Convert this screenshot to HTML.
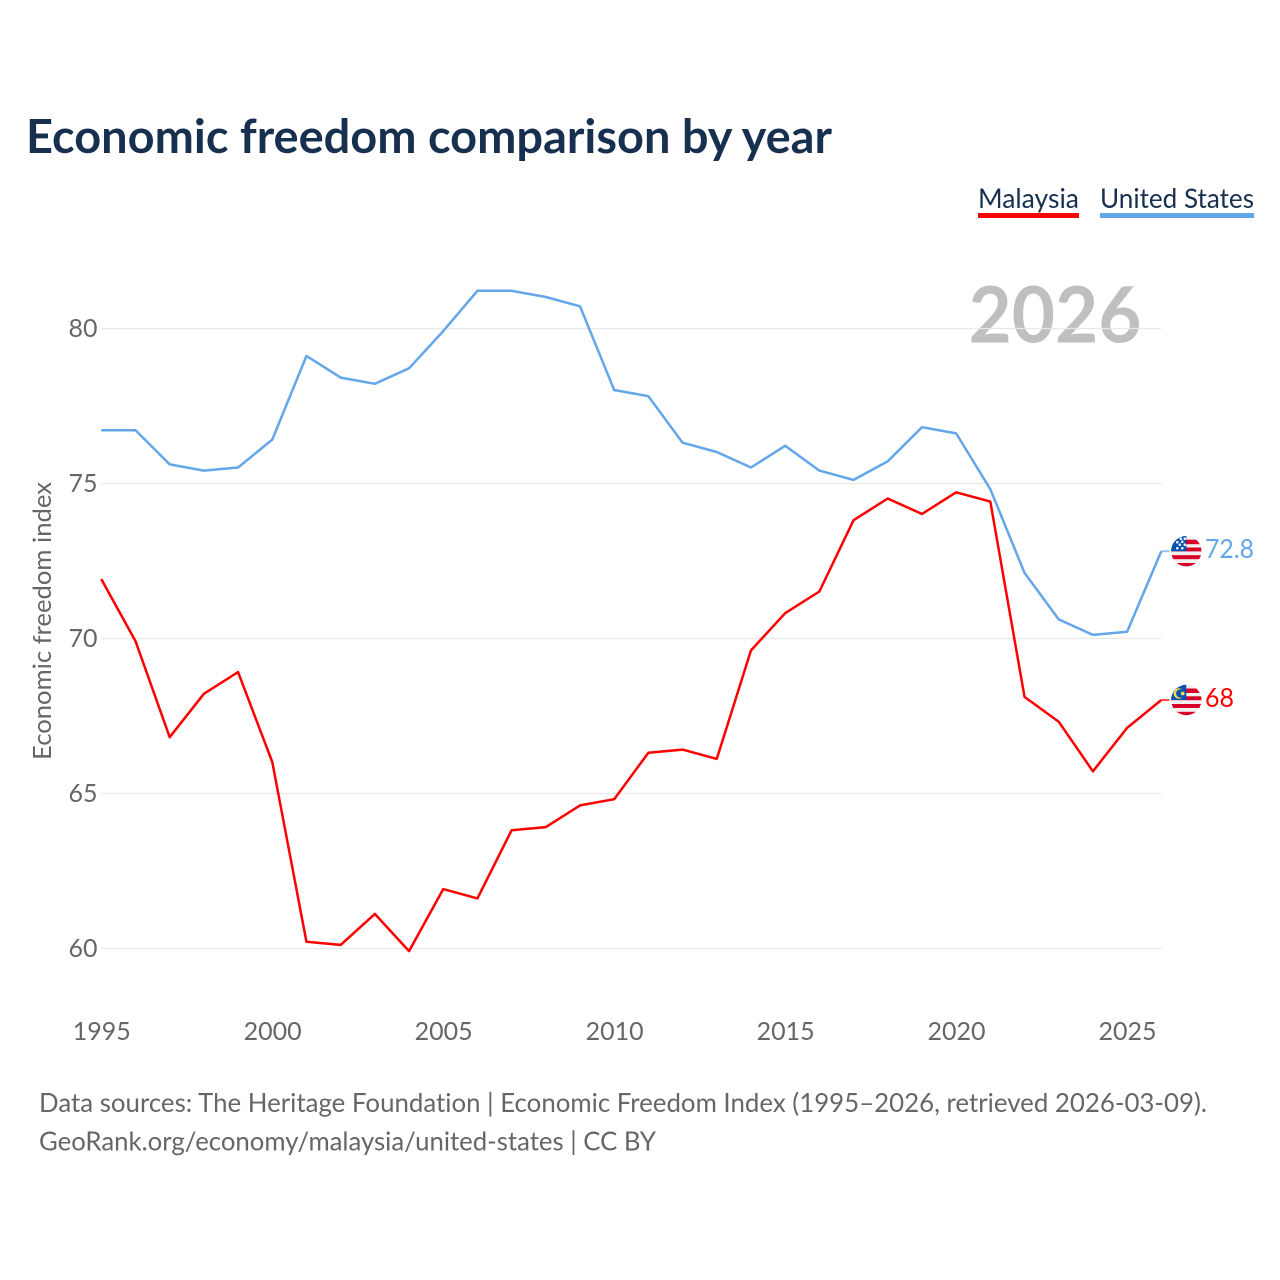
<!DOCTYPE html>
<html lang="en">
<head>
<meta charset="utf-8">
<title>Economic freedom comparison by year</title>
<style>
html,body{margin:0;padding:0;background:#fff;width:1280px;height:1280px;overflow:hidden}
svg{display:block}
text{font-family:"Lato","Carlito","Liberation Sans",sans-serif;font-variant-ligatures:none}
</style>
</head>
<body>
<svg id="chart" xmlns="http://www.w3.org/2000/svg" width="1280" height="1280" viewBox="0 0 1280 1280">
  <rect width="1280" height="1280" fill="#fff"/>
  <text x="26" y="153" font-size="47" font-weight="700" fill="#18304f" textLength="806" lengthAdjust="spacingAndGlyphs">Economic freedom comparison by year</text>

  <g>
    <g>
      <text x="978" y="208" font-size="27" fill="#18304f" textLength="101" lengthAdjust="spacingAndGlyphs">Malaysia</text>
      <rect x="978" y="213" width="101" height="5" fill="#ff0000"/>
    </g>
    <g>
      <text x="1100" y="208" font-size="27" fill="#18304f" textLength="154" lengthAdjust="spacingAndGlyphs">United States</text>
      <rect x="1100" y="213" width="154" height="5" fill="#63a6ea"/>
    </g>
  </g>

  <text x="968.5" y="342.5" font-size="78" font-weight="700" fill="#bfbfbf" textLength="173" lengthAdjust="spacingAndGlyphs">2026</text>

  <g id="grid"></g>
  <g id="yticks"></g>
  <g id="xticks"></g>
  <text transform="translate(51,760) rotate(-90)" font-size="25" fill="#666" textLength="278" lengthAdjust="spacingAndGlyphs">Economic freedom index</text>

  <path id="line-my" fill="none" stroke="#ff0000" stroke-width="2.5" stroke-linejoin="round"/>
  <path id="line-us" fill="none" stroke="#63a6ea" stroke-width="2.5" stroke-linejoin="round"/>
  <line id="stub-my" stroke="#ff0000" stroke-width="2" stroke-opacity="0.7"/>
  <line id="stub-us" stroke="#63a6ea" stroke-width="2" stroke-opacity="0.7"/>

  <defs>
    <clipPath id="clip-flag"><circle cx="0" cy="0" r="15.2"/></clipPath>
  </defs>

  <g id="flag-us" clip-path="url(#clip-flag)">
    <rect x="-16" y="-16" width="32" height="32" fill="#f0f0f0"/>
    <rect x="-16" y="-11.5" width="32" height="4.5" fill="#d80027"/>
    <rect x="-16" y="-3.7" width="32" height="3.9" fill="#d80027"/>
    <rect x="-16" y="4" width="32" height="4" fill="#d80027"/>
    <rect x="-16" y="11.8" width="32" height="4.2" fill="#d80027"/>
    <rect x="-16" y="-16" width="16" height="16" fill="#0052b4"/>
    <g fill="#f0f0f0">
      <circle cx="-9" cy="-3" r="1.3"/><circle cx="-4" cy="-3" r="1.3"/>
      <circle cx="-6.5" cy="-6.5" r="1.3"/><circle cx="-1.5" cy="-6.5" r="1.3"/>
      <circle cx="-9" cy="-9" r="1.3"/><circle cx="-4" cy="-9.5" r="1.3"/>
      <circle cx="-1.5" cy="-12.5" r="1.3"/><circle cx="-5.5" cy="-12.5" r="1.3"/>
    </g>
  </g>
  <g id="flag-my" clip-path="url(#clip-flag)">
    <rect x="-16" y="-16" width="32" height="32" fill="#f0f0f0"/>
    <rect x="-16" y="-11.5" width="32" height="4.5" fill="#d80027"/>
    <rect x="-16" y="-3.7" width="32" height="3.9" fill="#d80027"/>
    <rect x="-16" y="4" width="32" height="4" fill="#d80027"/>
    <rect x="-16" y="11.8" width="32" height="4.2" fill="#d80027"/>
    <rect x="-16" y="-16" width="16" height="16" fill="#0052b4"/>
    <circle cx="-7.5" cy="-6.5" r="5.2" fill="#ffda44"/>
    <circle cx="-6" cy="-6.5" r="4.2" fill="#0052b4"/>
    <circle cx="-3.6" cy="-6.5" r="1.9" fill="#ffda44"/>
  </g>

  <text id="value-us" x="1205" y="558" font-size="26" fill="#63a6ea" textLength="49" lengthAdjust="spacingAndGlyphs">72.8</text>
  <text id="value-my" x="1205" y="707" font-size="26" fill="#ff0000" textLength="29" lengthAdjust="spacingAndGlyphs">68</text>

  <g>
    <text x="39" y="1112" font-size="26" fill="#666" textLength="1168" lengthAdjust="spacingAndGlyphs">Data sources: The Heritage Foundation | Economic Freedom Index (1995–2026, retrieved 2026-03-09).</text>
    <text x="39" y="1150.5" font-size="26" fill="#666" textLength="617" lengthAdjust="spacingAndGlyphs">GeoRank.org/economy/malaysia/united-states | CC BY</text>
  </g>
</svg>
<script>
const years = [1995,1996,1997,1998,1999,2000,2001,2002,2003,2004,2005,2006,2007,2008,2009,2010,2011,2012,2013,2014,2015,2016,2017,2018,2019,2020,2021,2022,2023,2024,2025,2026];
const malaysia = [71.9,69.9,66.8,68.2,68.9,66.0,60.2,60.1,61.1,59.9,61.9,61.6,63.8,63.9,64.6,64.8,66.3,66.4,66.1,69.6,70.8,71.5,73.8,74.5,74.0,74.7,74.4,68.1,67.3,65.7,67.1,68.0];
const unitedStates = [76.7,76.7,75.6,75.4,75.5,76.4,79.1,78.4,78.2,78.7,79.9,81.2,81.2,81.0,80.7,78.0,77.8,76.3,76.0,75.5,76.2,75.4,75.1,75.7,76.8,76.6,74.8,72.1,70.6,70.1,70.2,72.8];
const yTickValues = [60,65,70,75,80];
const xTickValues = [1995,2000,2005,2010,2015,2020,2025];

const NS = 'http://www.w3.org/2000/svg';
function xScale(year){ return 101.3 + (year - 1995) * (1060 / 31); }
function yScale(value){ return 948 - (value - 60) * 31; }
function linePath(values){
  return values.map(function(v, i){
    return (i ? 'L' : 'M') + xScale(years[i]).toFixed(2) + ' ' + yScale(v).toFixed(2);
  }).join('');
}

const gridGroup = document.getElementById('grid');
const yGroup = document.getElementById('yticks');
const xGroup = document.getElementById('xticks');

yTickValues.forEach(function(v){
  const ln = document.createElementNS(NS, 'line');
  
  
  ln.setAttribute('x1', xScale(1995));
  ln.setAttribute('x2', xScale(2026));
  ln.setAttribute('y1', yScale(v) + 0.5);
  ln.setAttribute('y2', yScale(v) + 0.5);
  ln.setAttribute('stroke', '#e8e8e8');
  ln.setAttribute('stroke-width', '1.3');
  gridGroup.appendChild(ln);

  const t = document.createElementNS(NS, 'text');
  
  
  t.setAttribute('x', 97.5);
  t.setAttribute('y', yScale(v) + 9);
  t.setAttribute('text-anchor', 'end');
  t.setAttribute('font-size', '25');
  t.setAttribute('fill', '#666');
  t.textContent = v;
  yGroup.appendChild(t);
});

xTickValues.forEach(function(y){
  const t = document.createElementNS(NS, 'text');
  
  
  t.setAttribute('x', xScale(y) + 0.4);
  t.setAttribute('y', 1040);
  t.setAttribute('text-anchor', 'middle');
  t.setAttribute('font-size', '25');
  t.setAttribute('fill', '#666');
  t.textContent = y;
  xGroup.appendChild(t);
});

document.getElementById('line-my').setAttribute('d', linePath(malaysia));
document.getElementById('line-us').setAttribute('d', linePath(unitedStates));

const lastIndex = years.length - 1;
const lastX = xScale(years[lastIndex]);
function placeStub(id, value){
  const s = document.getElementById(id);
  s.setAttribute('x1', lastX);
  s.setAttribute('x2', lastX + 8);
  s.setAttribute('y1', yScale(value));
  s.setAttribute('y2', yScale(value));
}
placeStub('stub-us', unitedStates[lastIndex]);
placeStub('stub-my', malaysia[lastIndex]);
document.getElementById('flag-us').setAttribute('transform', 'translate(' + (lastX + 25) + ',' + yScale(unitedStates[lastIndex]) + ')');
document.getElementById('flag-my').setAttribute('transform', 'translate(' + (lastX + 25) + ',' + yScale(malaysia[lastIndex]) + ')');
document.getElementById('value-us').textContent = unitedStates[lastIndex];
document.getElementById('value-my').textContent = malaysia[lastIndex];
</script>
</body>
</html>
